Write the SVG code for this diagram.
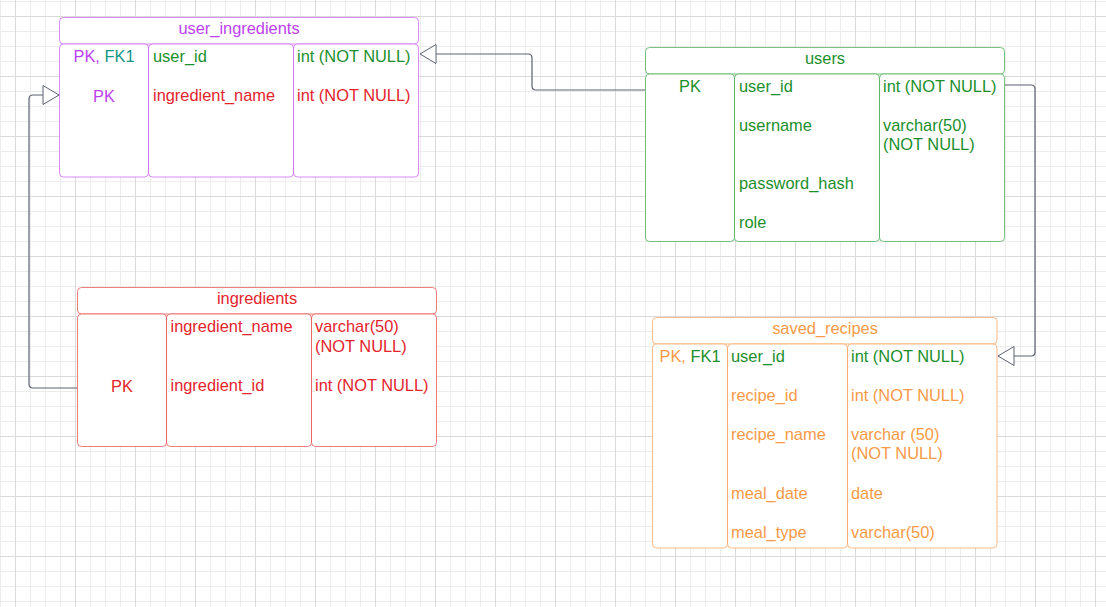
<svg xmlns="http://www.w3.org/2000/svg" width="1106" height="607" viewBox="0 0 1106 607">
  <style>
    text { font-family: "Liberation Sans", Arial, sans-serif; font-size: 16.4px; }
    .c { text-anchor: middle; }
    .box { fill: #ffffff; stroke-width: 1; stroke-opacity: 0.6; }
    .pu { fill: #bd3ff0; } .pus { stroke: #c040f0; }
    .gr { fill: #1b8f2b; } .grs { stroke: #1e9a30; }
    .rd { fill: #e4232b; } .rds { stroke: #e52a2a; }
    .or { fill: #f79a45; } .ors { stroke: #f79038; }
    .tl { fill: #139683; }
    .link { fill: none; stroke: #5c6270; stroke-width: 1.2; marker-end: url(#hollow); }
  </style>
  <defs>
    <pattern id="minor" patternUnits="userSpaceOnUse" x="0" y="1" width="15" height="15">
      <rect x="0" y="0" width="1" height="15" fill="#ececec"/>
      <rect x="0" y="0" width="15" height="1" fill="#ececec"/>
    </pattern>
    <pattern id="major" patternUnits="userSpaceOnUse" x="15" y="16" width="60" height="60">
      <rect x="0" y="0" width="1" height="60" fill="#dadada"/>
      <rect x="0" y="0" width="60" height="1" fill="#dadada"/>
    </pattern>
    <marker id="hollow" viewBox="-1 -1 18 22" refX="16" refY="10" markerWidth="18" markerHeight="22" markerUnits="userSpaceOnUse" orient="auto">
      <path d="M0,0.5 L16,10 L0,19.5 Z" fill="#ffffff" stroke="#5c6270" stroke-width="1"/>
    </marker>
  </defs>

  <!-- canvas grid -->
  <rect width="1106" height="607" fill="#ffffff"/>
  <rect width="1106" height="607" fill="url(#minor)"/>
  <rect width="1106" height="607" fill="url(#major)"/>

  <!-- relationships -->
  <g id="connectors">
    <path class="link" d="M645,90 H536 Q532,90 532,86 V58 Q532,54 528,54 H420"/>
    <path class="link" d="M77,388 H33 Q29,388 29,384 V99 Q29,95 33,95 H59"/>
    <path class="link" d="M1005,85 H1031 Q1035,85 1035,89 V352 Q1035,356 1031,356 H998"/>
  </g>

  <!-- user_ingredients table -->
  <g id="user_ingredients">
    <rect class="box pus" x="59.5" y="17.5" width="359" height="26.5" rx="4"/>
    <rect class="box pus" x="59.5" y="44" width="89" height="133" rx="4"/>
    <rect class="box pus" x="148.5" y="44" width="145" height="133" rx="4"/>
    <rect class="box pus" x="293.5" y="44" width="125" height="133" rx="4"/>
    <text class="c pu" x="239" y="34">user_ingredients</text>
    <text class="c" x="104" y="62"><tspan class="pu">PK, </tspan><tspan class="tl">FK1</tspan></text>
    <text class="c pu" x="104" y="101.5">PK</text>
    <text class="gr" x="153" y="62">user_id</text>
    <text class="rd" x="153" y="100.5">ingredient_name</text>
    <text class="gr" x="297" y="62">int (NOT NULL)</text>
    <text class="rd" x="297" y="100.5">int (NOT NULL)</text>
  </g>

  <!-- users table -->
  <g id="users">
    <rect class="box grs" x="645.5" y="47.5" width="359" height="26.5" rx="4"/>
    <rect class="box grs" x="645.5" y="74" width="89" height="167.5" rx="4"/>
    <rect class="box grs" x="734.5" y="74" width="145" height="167.5" rx="4"/>
    <rect class="box grs" x="879.5" y="74" width="125" height="167.5" rx="4"/>
    <text class="c gr" x="825" y="64">users</text>
    <text class="c gr" x="690" y="92">PK</text>
    <text class="gr" x="739" y="92">user_id</text>
    <text class="gr" x="739" y="130.5">username</text>
    <text class="gr" x="739" y="189">password_hash</text>
    <text class="gr" x="739" y="228">role</text>
    <text class="gr" x="883" y="92">int (NOT NULL)</text>
    <text class="gr" x="883" y="130.5">varchar(50)</text>
    <text class="gr" x="883" y="150">(NOT NULL)</text>
  </g>

  <!-- ingredients table -->
  <g id="ingredients">
    <rect class="box rds" x="77.5" y="287.5" width="359" height="26.5" rx="4"/>
    <rect class="box rds" x="77.5" y="314" width="89" height="132.5" rx="4"/>
    <rect class="box rds" x="166.5" y="314" width="145" height="132.5" rx="4"/>
    <rect class="box rds" x="311.5" y="314" width="125" height="132.5" rx="4"/>
    <text class="c rd" x="257" y="304">ingredients</text>
    <text class="c rd" x="122" y="392">PK</text>
    <text class="rd" x="170.5" y="332">ingredient_name</text>
    <text class="rd" x="170.5" y="390.5">ingredient_id</text>
    <text class="rd" x="315" y="332">varchar(50)</text>
    <text class="rd" x="315" y="351.5">(NOT NULL)</text>
    <text class="rd" x="315" y="390.5">int (NOT NULL)</text>
  </g>

  <!-- saved_recipes table -->
  <g id="saved_recipes">
    <rect class="box ors" x="652.5" y="317.5" width="344.5" height="26.5" rx="4"/>
    <rect class="box ors" x="652.5" y="344" width="75" height="204" rx="4"/>
    <rect class="box ors" x="727.5" y="344" width="120" height="204" rx="4"/>
    <rect class="box ors" x="847.5" y="344" width="149.5" height="204" rx="4"/>
    <text class="c or" x="825" y="334">saved_recipes</text>
    <text class="c" x="690" y="362"><tspan class="or">PK, </tspan><tspan class="gr">FK1</tspan></text>
    <text class="gr" x="731" y="362">user_id</text>
    <text class="or" x="731" y="400.5">recipe_id</text>
    <text class="or" x="731" y="440">recipe_name</text>
    <text class="or" x="731" y="499">meal_date</text>
    <text class="or" x="731" y="538">meal_type</text>
    <text class="gr" x="851" y="362">int (NOT NULL)</text>
    <text class="or" x="851" y="400.5">int (NOT NULL)</text>
    <text class="or" x="851" y="440">varchar (50)</text>
    <text class="or" x="851" y="459">(NOT NULL)</text>
    <text class="or" x="851" y="499">date</text>
    <text class="or" x="851" y="538">varchar(50)</text>
  </g>
</svg>
